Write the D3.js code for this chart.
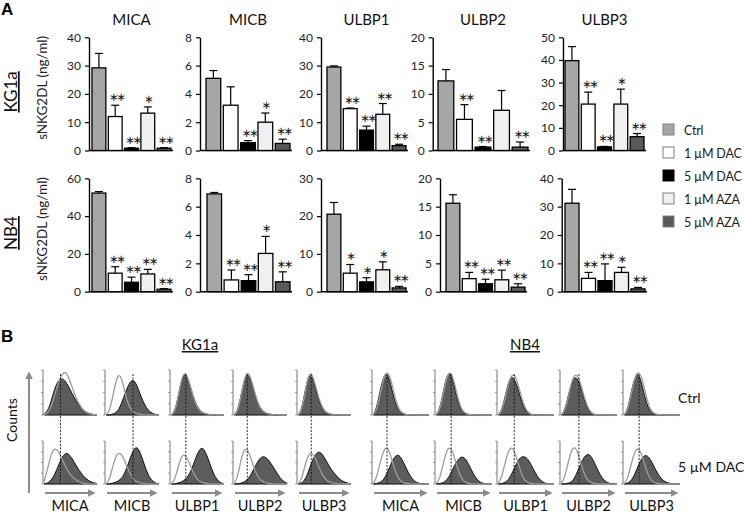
<!DOCTYPE html>
<html><head><meta charset="utf-8">
<script src="https://cdn.jsdelivr.net/npm/d3@7"></script>
<style>body{margin:0;background:#fff} svg{display:block;font-family:Lato,'Open Sans',sans-serif} .sig{font-family:'DejaVu Sans',sans-serif}</style>
</head><body><svg id="c" width="745" height="513"></svg>
<script>
// ---------- DATA ----------
const cells = ["MICA","MICB","ULBP1","ULBP2","ULBP3"];
const treatments = ["Ctrl","1 µM DAC","5 µM DAC","1 µM AZA","5 µM AZA"];
const treatmentColors = ["#a6a6a6","#ffffff","#000000","#f0f0f0","#595959"];

const kg1aTicks = [[0,10,20,30,40],[0,2,4,6,8],[0,10,20,30,40],[0,5,10,15,20],[0,10,20,30,40,50]];
const kg1aMeans = [[29.2,12.0,0.8,13.2,0.8],[5.1,3.2,0.55,2.0,0.5],[29.5,14.8,7.2,12.8,1.7],[12.3,5.5,0.6,7.1,0.6],[39.7,20.5,1.6,20.5,6.1]];
const kg1aUpper = [[34.3,16.0,1.0,15.4,1.0],[5.65,4.5,0.7,2.65,0.8],[29.9,15.0,8.6,16.6,2.2],[14.3,8.1,0.7,10.6,1.5],[45.9,25.8,1.8,27.1,7.5]];
const kg1aSig = [["","**","**","*","**"],["","","**","*","**"],["","**","**","**","**"],["","**","**","","**"],["","**","**","*","**"]];

const nb4Ticks = [[0,20,40,60],[0,2,4,6,8],[0,10,20,30],[0,5,10,15,20],[0,10,20,30,40]];
const nb4Means = [[52.2,9.8,5.0,9.4,1.3],[6.9,0.83,0.78,2.7,0.7],[20.5,4.9,2.6,5.8,1.0],[15.6,2.3,1.4,2.1,0.8],[31.2,4.7,3.9,6.8,1.0]];
const nb4Upper = [[53.0,13.2,7.7,11.8,1.6],[7.0,1.53,1.2,3.9,1.4],[23.6,7.2,3.7,7.9,1.4],[17.1,3.4,2.2,3.8,1.4],[36.1,6.8,9.8,8.6,1.5]];
const nb4Sig = [["","**","**","**","**"],["","**","**","*","**"],["","*","*","*","**"],["","**","**","**","**"],["","**","**","*","**"]];

// Flow histograms (relative counts over 16 fluorescence bins)
const kg1aCtrlFilled = [
 [0.02,0.08,0.3,0.6,0.78,0.84,0.78,0.64,0.48,0.33,0.21,0.12,0.06,0.03,0.01,0],
 [0,0,0.02,0.06,0.18,0.4,0.62,0.78,0.8,0.62,0.4,0.22,0.1,0.04,0.01,0],
 [0,0.06,0.4,0.82,0.96,0.78,0.5,0.26,0.12,0.05,0.02,0.01,0,0,0,0],
 [0,0.08,0.45,0.85,0.95,0.75,0.45,0.22,0.1,0.04,0.02,0.01,0,0,0,0],
 [0,0.1,0.55,0.92,0.88,0.6,0.3,0.12,0.05,0.02,0.01,0,0,0,0,0]];
const kg1aCtrlIso = [
 [0,0.04,0.18,0.45,0.72,0.92,1.0,0.86,0.62,0.4,0.24,0.12,0.05,0.02,0.01,0],
 [0,0.08,0.45,0.85,0.95,0.65,0.3,0.12,0.05,0.02,0.01,0,0,0,0,0],
 [0,0.05,0.38,0.84,1.0,0.8,0.5,0.25,0.11,0.05,0.02,0.01,0,0,0,0],
 [0,0.06,0.42,0.86,1.0,0.78,0.46,0.22,0.1,0.04,0.02,0.01,0,0,0,0],
 [0,0.08,0.5,0.95,0.95,0.66,0.35,0.15,0.06,0.02,0.01,0,0,0,0,0]];
const kg1aDacFilled = [
 [0,0.02,0.08,0.22,0.42,0.62,0.74,0.72,0.6,0.45,0.32,0.2,0.12,0.06,0.03,0.01],
 [0,0,0.02,0.05,0.1,0.2,0.4,0.65,0.86,0.88,0.68,0.42,0.2,0.08,0.02,0],
 [0,0,0.02,0.05,0.1,0.2,0.38,0.62,0.82,0.88,0.72,0.48,0.25,0.1,0.03,0],
 [0,0,0.02,0.05,0.12,0.25,0.42,0.58,0.66,0.64,0.55,0.42,0.28,0.15,0.06,0.02],
 [0,0.02,0.1,0.3,0.55,0.72,0.78,0.7,0.55,0.4,0.28,0.18,0.1,0.05,0.02,0]];
const kg1aDacIso = [
 [0.05,0.35,0.72,0.86,0.8,0.62,0.42,0.28,0.17,0.1,0.05,0.02,0.01,0,0,0],
 [0,0.1,0.45,0.72,0.75,0.62,0.4,0.2,0.09,0.04,0.02,0.01,0,0,0,0],
 [0,0.08,0.4,0.68,0.7,0.55,0.32,0.16,0.07,0.03,0.01,0,0,0,0,0],
 [0,0.15,0.6,0.85,0.82,0.55,0.3,0.14,0.06,0.03,0.01,0,0,0,0,0],
 [0,0.1,0.45,0.72,0.75,0.6,0.38,0.2,0.09,0.04,0.02,0.01,0,0,0,0]];
const nb4CtrlFilled = [
 [0,0.15,0.6,0.92,0.95,0.6,0.25,0.08,0.02,0.01,0,0,0,0,0,0],
 [0,0.12,0.55,0.95,0.95,0.62,0.26,0.08,0.02,0.01,0,0,0,0,0,0],
 [0,0.1,0.45,0.82,0.88,0.7,0.4,0.15,0.05,0.01,0,0,0,0,0,0],
 [0,0.1,0.45,0.8,0.88,0.72,0.42,0.16,0.05,0.01,0,0,0,0,0,0],
 [0,0.12,0.55,0.9,0.95,0.62,0.26,0.08,0.02,0.01,0,0,0,0,0,0]];
const nb4CtrlIso = [
 [0,0.1,0.5,0.9,1.0,0.75,0.35,0.12,0.03,0.01,0,0,0,0,0,0],
 [0,0.1,0.5,0.92,1.0,0.72,0.32,0.1,0.03,0.01,0,0,0,0,0,0],
 [0,0.08,0.4,0.8,0.95,0.82,0.5,0.2,0.06,0.01,0,0,0,0,0,0],
 [0,0.08,0.42,0.82,0.95,0.8,0.48,0.2,0.06,0.01,0,0,0,0,0,0],
 [0,0.1,0.5,0.9,1.0,0.8,0.4,0.12,0.03,0.01,0,0,0,0,0,0]];
const nb4DacFilled = [
 [0,0.01,0.04,0.12,0.3,0.52,0.68,0.7,0.55,0.35,0.18,0.07,0.02,0.01,0,0],
 [0,0.01,0.03,0.1,0.25,0.45,0.6,0.66,0.6,0.42,0.24,0.1,0.03,0.01,0,0],
 [0,0.01,0.04,0.12,0.3,0.5,0.64,0.66,0.6,0.44,0.26,0.12,0.04,0.01,0,0],
 [0,0,0.02,0.06,0.2,0.42,0.62,0.72,0.68,0.5,0.3,0.14,0.05,0.01,0,0],
 [0,0.02,0.08,0.25,0.48,0.65,0.7,0.6,0.42,0.25,0.12,0.05,0.02,0,0,0]];
const nb4DacIso = [
 [0,0.15,0.55,0.85,0.88,0.6,0.28,0.1,0.03,0.01,0,0,0,0,0,0],
 [0,0.12,0.5,0.85,0.88,0.62,0.3,0.1,0.03,0.01,0,0,0,0,0,0],
 [0,0.15,0.55,0.85,0.88,0.62,0.3,0.1,0.03,0.01,0,0,0,0,0,0],
 [0,0.15,0.55,0.86,0.88,0.6,0.28,0.1,0.03,0.01,0,0,0,0,0,0],
 [0,0.12,0.5,0.82,0.86,0.64,0.32,0.12,0.03,0.01,0,0,0,0,0,0]];
const kg1aCtrlMedian = [0.31,0.51,0.28,0.25,0.25];
const nb4CtrlMedian = [0.25,0.27,0.29,0.32,0.27];

// ---------- DRAW ----------
const svg = d3.select("#c");
const FONT = "Lato,'Open Sans',sans-serif";

svg.append("text").attr("x",1).attr("y",15).text("A").attr("font-family","Arial,Liberation Sans,sans-serif").attr("font-weight","bold").attr("font-size",17);
svg.append("text").attr("x",1).attr("y",342).text("B").attr("font-family","Arial,Liberation Sans,sans-serif").attr("font-weight","bold").attr("font-size",17);

const rowsA = [
 {label:"KG1a", means:kg1aMeans, up:kg1aUpper, sig:kg1aSig, ticks:kg1aTicks, y0:150.5, y1:37.3,
  ax:[89,200,321,432.7,563], xr:[[92,171],[206,290],[327,406],[438,528],[565,644]]},
 {label:"NB4", means:nb4Means, up:nb4Upper, sig:nb4Sig, ticks:nb4Ticks, y0:291.7, y1:178.3,
  ax:[89,200,321,440,561.7], xr:[[92,171],[207,290],[327,406],[446,525],[565,645]]}
];

rowsA.forEach((row, r) => {
  const midY = (row.y0 + row.y1)/2;
  svg.append("text").attr("transform",`translate(17,${midY-2}) rotate(-90)`).attr("text-anchor","middle")
    .attr("font-size",17).style("text-decoration","underline").attr("fill","#111").text(row.label);
  svg.append("text").attr("transform",`translate(47,${midY-6}) rotate(-90)`).attr("text-anchor","middle")
    .attr("font-size",13.5).attr("fill","#222").text("sNKG2DL (ng/ml)");
  cells.forEach((cell, i) => {
    const ticks = row.ticks[i];
    const y = d3.scaleLinear().domain([0, ticks[ticks.length-1]]).range([row.y0, row.y1]);
    const x = d3.scaleBand().domain(treatments).range(row.xr[i]).paddingInner(0.15);
    const g = svg.append("g");
    const ag = g.append("g").attr("transform",`translate(${row.ax[i]},0)`)
      .call(d3.axisLeft(y).tickValues(ticks).tickSize(4).tickSizeOuter(0).tickPadding(4));
    ag.select(".domain").attr("stroke","#000").attr("stroke-width",1.4);
    ag.selectAll(".tick line").attr("stroke","#000").attr("stroke-width",1.2);
    ag.selectAll(".tick text").attr("font-size",12).attr("font-family",FONT).attr("fill","#222");
    g.append("line").attr("x1",row.ax[i]).attr("x2",row.xr[i][1]+2).attr("y1",row.y0).attr("y2",row.y0)
      .attr("stroke","#000").attr("stroke-width",1.4);
    if (r === 0) {
      g.append("text").attr("x",(row.xr[i][0]+row.xr[i][1])/2).attr("y",25).attr("text-anchor","middle")
        .attr("font-size",15).attr("fill","#111").text(cell);
    }
    const bw = x.bandwidth();
    treatments.forEach((t, j) => {
      const m = row.means[i][j], u = row.up[i][j];
      const cx = x(t) + bw/2;
      g.append("line").attr("x1",cx).attr("x2",cx).attr("y1",y(m)).attr("y2",y(u)).attr("stroke","#000").attr("stroke-width",1.2);
      g.append("line").attr("x1",cx-4).attr("x2",cx+4).attr("y1",y(u)).attr("y2",y(u)).attr("stroke","#000").attr("stroke-width",1.2);
      g.append("rect").attr("x",x(t)).attr("y",y(m)).attr("width",bw).attr("height",row.y0-y(m))
        .attr("fill",treatmentColors[j]).attr("stroke","#000").attr("stroke-width",1.3);
      if (row.sig[i][j]) {
        const s = row.sig[i][j].replace(/\*/g,"\u2217");
        g.append("text").attr("class","sig").attr("x",cx + (s.length>1 ? 1.2 : 0)).attr("y",y(u)-4).attr("text-anchor","middle")
          .attr("font-size",11.5).attr("fill","#222").attr("letter-spacing",-2.4).text(s);
      }
    });
  });
});

// legend
treatments.forEach((t, j) => {
  const ly = 130 + j*23;
  svg.append("rect").attr("x",663).attr("y",ly-6).attr("width",11).attr("height",11)
    .attr("fill",treatmentColors[j]).attr("stroke", j===2 ? "#000" : "#808080").attr("stroke-width",1);
  svg.append("text").attr("x",684).attr("y",ly+5).attr("font-size",12.5).attr("letter-spacing",-0.2).attr("fill","#222").text(t);
});

// ---------- Panel B ----------
const defs = svg.append("defs");
defs.append("marker").attr("id","ah").attr("viewBox","0 0 10 10").attr("refX",8).attr("refY",5)
  .attr("markerWidth",4).attr("markerHeight",4).attr("orient","auto")
  .append("path").attr("d","M0,0 L10,5 L0,10 z").attr("fill","#8c8c8c");

const histRows = {ctrl:{top:370, base:415}, dac:{top:441, base:484}};
const lines = [
 {name:"KG1a", px:[43,105,170,233,297], w:54, cx:200, data:{ctrl:[kg1aCtrlFilled,kg1aCtrlIso], dac:[kg1aDacFilled,kg1aDacIso]}, med:kg1aCtrlMedian},
 {name:"NB4", px:[372,435,497,560,623], w:57, cx:525, data:{ctrl:[nb4CtrlFilled,nb4CtrlIso], dac:[nb4DacFilled,nb4DacIso]}, med:nb4CtrlMedian}
];

lines.forEach(L => {
  svg.append("text").attr("x",L.cx).attr("y",350).attr("text-anchor","middle").attr("font-size",15)
    .style("text-decoration","underline").attr("fill","#111").text(L.name);
  cells.forEach((cell, i) => {
    const px = L.px[i];
    const xs = d3.scaleLinear().domain([0,1]).range([px+1, px+L.w]);
    ["ctrl","dac"].forEach(rk => {
      const R = histRows[rk];
      const ys = d3.scaleLinear().domain([0,1]).range([R.base, R.top+1]);
      const g = svg.append("g");
      g.append("line").attr("x1",px).attr("x2",px+L.w).attr("y1",R.base).attr("y2",R.base).attr("stroke","#c8c8c8").attr("stroke-width",0.8);
      d3.range(1,10).forEach(k => g.append("line").attr("x1",px+k*L.w/10).attr("x2",px+k*L.w/10).attr("y1",R.base).attr("y2",R.base+1.5).attr("stroke","#d0d0d0").attr("stroke-width",0.6));
      const filled = L.data[rk][0][i], iso = L.data[rk][1][i];
      const area = d3.area().x((d,k)=>xs(k/(filled.length-1))).y0(R.base).y1(d=>ys(d)).curve(d3.curveBasis);
      const line = d3.line().x((d,k)=>xs(k/(iso.length-1))).y(d=>ys(d)).curve(d3.curveBasis);
      g.append("path").attr("d",area(filled)).attr("fill","#5c5c5c").attr("stroke","#111").attr("stroke-width",1);
      g.append("path").attr("d",line(iso)).attr("fill","none").attr("stroke","#9c9c9c").attr("stroke-width",1.3);
      g.append("line").attr("x1",px).attr("x2",px).attr("y1",R.top).attr("y2",R.base).attr("stroke","#555").attr("stroke-width",0.8);
      d3.range(0,5).forEach(k => { const yy = R.top + k*(R.base-R.top)/4;
        g.append("line").attr("x1",px-2).attr("x2",px).attr("y1",yy).attr("y2",yy).attr("stroke","#666").attr("stroke-width",0.6); });
    });
    const mx = xs(L.med[i]);
    svg.append("line").attr("x1",mx).attr("x2",mx).attr("y1",histRows.ctrl.top+4).attr("y2",histRows.dac.base)
      .attr("stroke","#111").attr("stroke-width",0.9).attr("stroke-dasharray","2,1.5");
    svg.append("line").attr("x1",px+2).attr("x2",px+L.w-3).attr("y1",493).attr("y2",493)
      .attr("stroke","#8c8c8c").attr("stroke-width",2).attr("marker-end","url(#ah)");
    svg.append("text").attr("x",px+L.w/2).attr("y",511).attr("text-anchor","middle").attr("font-size",14.5).attr("fill","#111").text(cell);
  });
});

svg.append("line").attr("x1",29).attr("x2",29).attr("y1",493).attr("y2",373)
  .attr("stroke","#8c8c8c").attr("stroke-width",2).attr("marker-end","url(#ah)");
svg.append("text").attr("transform","translate(17,420) rotate(-90)").attr("text-anchor","middle").attr("font-size",14).attr("fill","#111").text("Counts");
svg.append("text").attr("x",678).attr("y",403).attr("font-size",14).attr("fill","#111").text("Ctrl");
svg.append("text").attr("x",678).attr("y",472).attr("font-size",14).attr("fill","#111").text("5 µM DAC");
</script></body></html>
